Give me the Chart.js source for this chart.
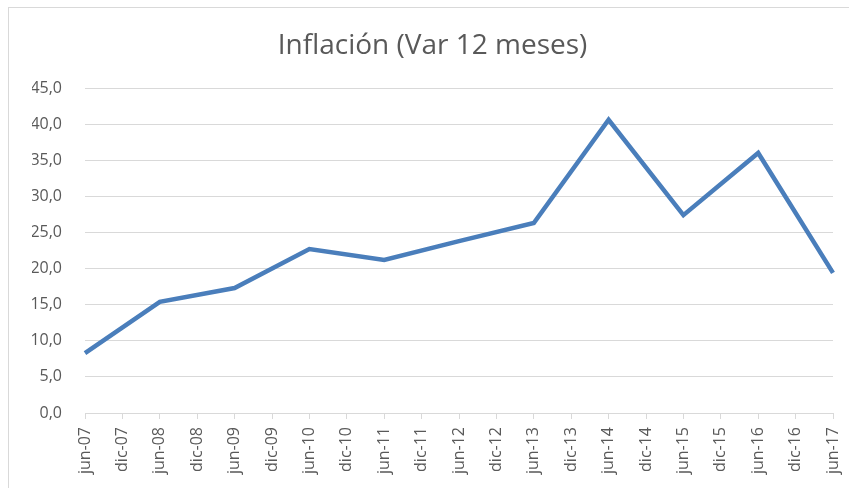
<!DOCTYPE html>
<html>
<head>
<meta charset="utf-8">
<script src="https://cdn.jsdelivr.net/npm/chart.js@4/dist/chart.umd.min.js"></script>
<style>
  html, body { margin: 0; padding: 0; background: #fff; }
  #wrap { position: relative; width: 849px; height: 488px; overflow: hidden; }
  #frame { position: absolute; left: 8px; top: 7px; width: 900px; height: 600px; border: 1px solid #d9d9d9; box-sizing: border-box; }
  canvas { position: absolute; left: 0; top: 0; }
</style>
</head>
<body>
<div id="wrap">
  <div id="frame"></div>
  <canvas id="chart" width="849" height="488"></canvas>
</div>
<script>
const LABELS = ['jun-07', 'dic-07', 'jun-08', 'dic-08', 'jun-09', 'dic-09', 'jun-10', 'dic-10', 'jun-11', 'dic-11',
  'jun-12', 'dic-12', 'jun-13', 'dic-13', 'jun-14', 'dic-14', 'jun-15', 'dic-15', 'jun-16', 'dic-16', 'jun-17'];

// annual readings (June), December points have no value
const INFLACION = [8.3, null, 15.4, null, 17.3, null, 22.7, null, 21.2, null,
  23.8, null, 26.3, null, 40.6, null, 27.4, null, 36.0, null, 19.4];

const Y_MIN = 0;
const Y_MAX = 45;
const Y_STEP = 5;

const gray = '#595959';
const gridColor = '#d9d9d9';
const font = "'Open Sans', 'Liberation Sans', sans-serif";

new Chart(document.getElementById('chart'), {
  type: 'line',
  data: {
    labels: LABELS,
    datasets: [{
      label: 'Inflación',
      data: INFLACION,
      borderColor: '#4a7ebb',
      borderWidth: 4.5,
      pointRadius: 0,
      tension: 0,
      spanGaps: true,
      borderJoinStyle: 'miter',
    }],
  },
  options: {
    responsive: false,
    animation: false,
    layout: { padding: { left: 32, right: 16, top: 0, bottom: 6 } },
    plugins: {
      legend: { display: false },
      tooltip: { enabled: false },
      title: {
        display: true,
        text: 'Inflación (Var 12 meses)',
        color: gray,
        font: { family: font, size: 28, weight: 'normal', lineHeight: 1.2 },
        padding: { top: 29, bottom: 25.4 },
      },
    },
    scales: {
      x: {
        offset: false,
        grid: { drawOnChartArea: false, drawTicks: true, tickLength: 6, color: gridColor },
        border: { display: true, color: gridColor, width: 1 },
        ticks: {
          autoSkip: false,
          maxRotation: 90,
          minRotation: 90,
          padding: 8,
          color: gray,
          font: { family: font, size: 16 },
        },
        afterFit: (scale) => {
          scale.height = 488 - 413 - 6;
          scale.paddingLeft = 0;
          scale.paddingRight = 0;
        },
      },
      y: {
        min: Y_MIN,
        max: Y_MAX,
        grid: { color: gridColor, drawTicks: false },
        border: { display: false },
        ticks: {
          stepSize: Y_STEP,
          padding: 23,
          color: gray,
          font: { family: font, size: 16 },
          callback: (v) => v.toFixed(1).replace('.', ','),
        },
        afterFit: (scale) => { scale.width = 53; },
      },
    },
  },
});
</script>
</body>
</html>
